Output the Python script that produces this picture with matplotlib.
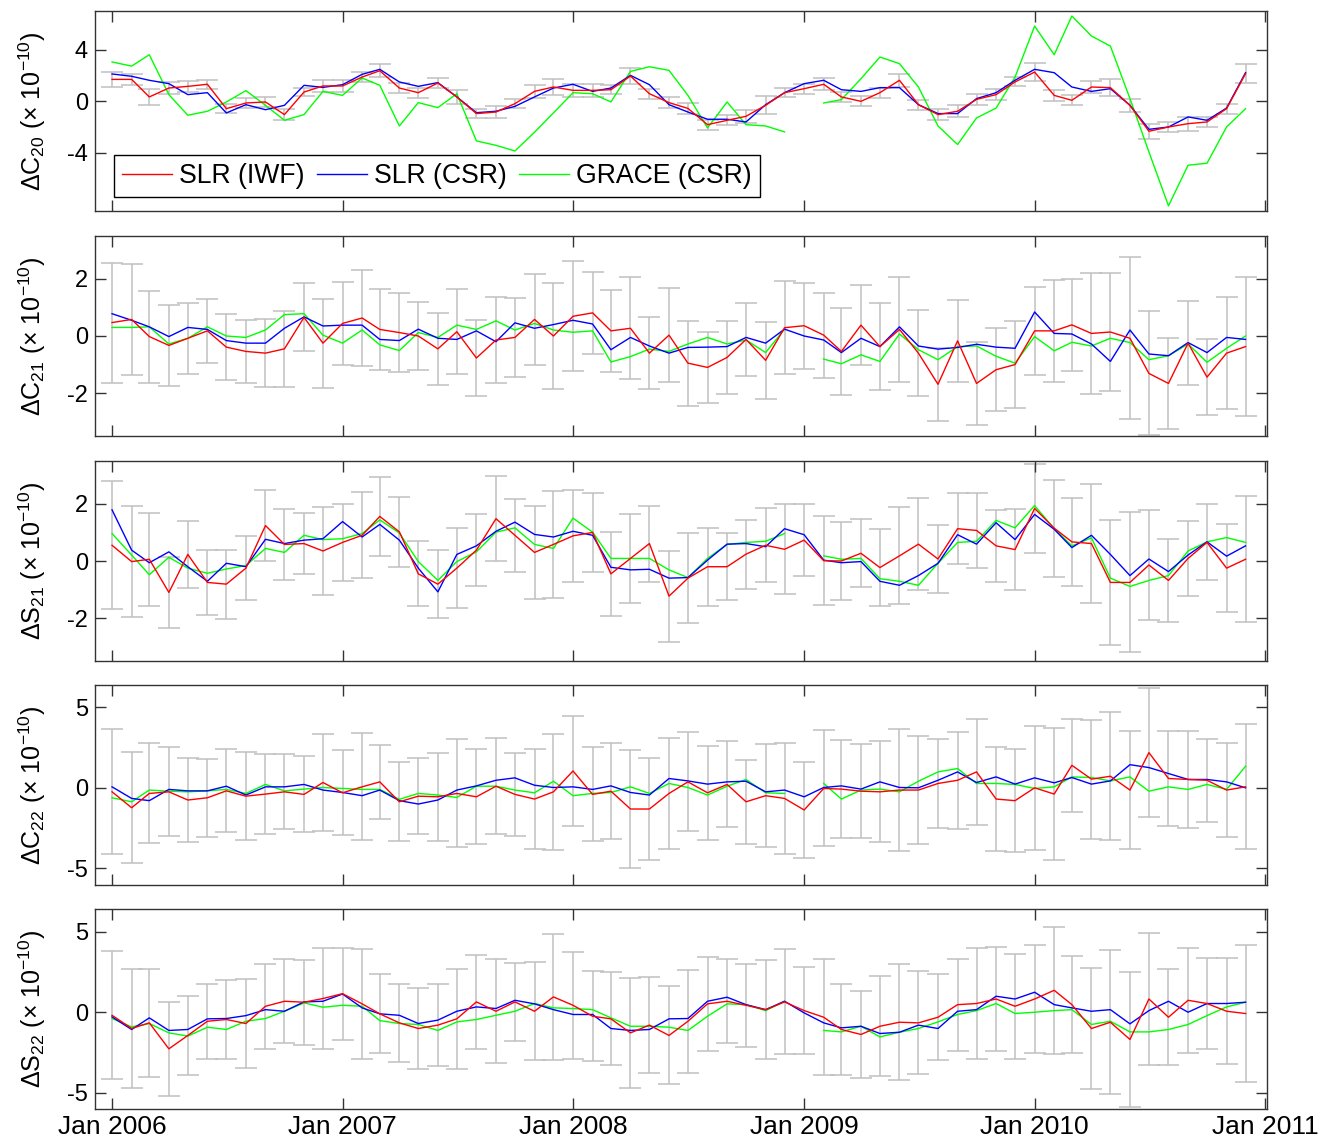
import numpy as np
import pandas as pd
import matplotlib
matplotlib.use("Agg")
import matplotlib.pyplot as plt
import matplotlib.dates as mdates

plt.rcParams.update({
    "font.family": ["Liberation Sans", "DejaVu Sans"],
    "mathtext.fontset": "custom",
    "mathtext.rm": "Liberation Sans",
    "mathtext.it": "Liberation Sans:italic",
    "axes.unicode_minus": False,
})

nan = np.nan
months = pd.date_range("2006-01-01", periods=60, freq="MS")

# delta C20
c20_iwf = [1.70, 1.70, 0.34, 1.03, 1.16, 1.32, -0.57, -0.13, -0.05, -1.03,
           0.72, 1.19, 1.19, 1.88, 2.37, 1.03, 0.67, 1.42, 0.34, -0.95,
           -0.83, -0.18, 0.77, 1.11, 0.85, 0.85, 0.90, 1.96, 0.59, -0.10,
           -0.55, -1.81, -1.47, -1.16, -0.31, 0.67, 0.98, 1.32, 0.34, 0.00,
           0.67, 1.63, -0.26, -1.03, -0.77, 0.15, 0.52, 1.50, 2.27, 0.46,
           0.08, 1.11, 1.06, -0.31, -2.32, -1.99, -1.73, -1.60, -0.57, 2.14]
c20_err = [0.60, 0.45, 0.65, 0.45, 0.40, 0.35, 0.35, 0.35, 0.40, 0.45,
           0.30, 0.50, 0.45, 0.40, 0.50, 0.40, 0.40, 0.35, 0.55, 0.35,
           0.50, 0.35, 0.50, 0.60, 0.50, 0.50, 0.35, 0.60, 0.40, 0.45,
           0.40, 0.40, 0.40, 0.50, 0.70, 0.35, 0.40, 0.45, 0.40, 0.40,
           0.40, 0.50, 0.40, 0.40, 0.45, 0.40, 0.40, 0.35, 0.70, 0.45,
           0.40, 0.45, 0.65, 0.50, 0.60, 0.35, 0.55, 0.40, 0.40, 0.75]
c20_csr = [2.12, 1.94, 1.63, 1.37, 0.52, 0.67, -0.90, -0.26, -0.65, -0.31,
           1.24, 1.08, 1.29, 2.09, 2.48, 1.50, 1.16, 1.45, 0.34, -0.88,
           -0.77, -0.39, 0.34, 1.03, 1.32, 0.77, 1.03, 2.01, 1.29, -0.26,
           -0.83, -1.39, -1.39, -1.60, -0.26, 0.67, 1.37, 1.63, 0.90, 0.77,
           1.06, 1.06, -0.26, -0.95, -0.95, 0.21, 0.67, 1.63, 2.48, 2.22,
           1.11, 0.77, 0.98, -0.31, -2.17, -1.99, -1.21, -1.47, -0.52, 2.22]
c20_grace = [3.05, 2.73, 3.61, 0.52, -1.08, -0.77, -0.05, 0.83, -0.31, -1.47,
             -1.03, 0.77, 0.46, 1.81, 1.24, -1.91, -0.10, -0.49, 0.59, -3.07,
             -3.41, -3.85, -2.40, -0.90, 0.67, 0.59, -0.05, 2.32, 2.68, 2.40,
             0.46, -2.06, -0.05, -1.81, -1.91, -2.37, nan, -0.13, 0.13, 1.75,
             3.43, 2.92, 1.11, -1.91, -3.35, -1.29, -0.52, 1.88, 5.83, 3.61,
             6.61, 5.06, 4.28, 0.21, -3.92, -8.10, -4.95, -4.80, -1.99, -0.57]

# delta C21
c21_iwf = [0.47, 0.58, -0.02, -0.33, -0.08, 0.18, -0.39, -0.54, -0.60, -0.45,
           0.65, -0.25, 0.44, 0.63, 0.23, 0.12, 0.00, -0.45, 0.15, -0.77,
           -0.14, -0.05, 0.58, 0.00, 0.69, 0.81, 0.18, 0.27, -0.60, 0.03,
           -0.95, -1.10, -0.75, -0.12, -0.85, 0.29, 0.36, 0.03, -0.54, 0.38,
           -0.37, 0.23, -0.60, -1.69, -0.17, -1.66, -1.18, -1.00, 0.18, 0.18,
           0.39, 0.09, 0.14, -0.08, -1.31, -1.66, -0.25, -1.44, -0.60, -0.37]
c21_err = [2.10, 1.95, 1.61, 1.41, 1.24, 1.11, 1.16, 1.11, 1.18, 1.33,
           1.19, 1.56, 1.45, 1.67, 1.41, 1.39, 1.20, 1.27, 1.48, 1.33,
           1.52, 1.38, 1.59, 1.86, 1.92, 1.43, 1.44, 1.78, 1.25, 1.65,
           1.49, 1.24, 1.27, 1.27, 1.35, 1.63, 1.50, 1.49, 1.52, 1.41,
           1.53, 1.83, 1.50, 1.27, 1.44, 1.45, 1.46, 1.53, 1.54, 1.78,
           1.61, 2.13, 2.06, 2.84, 2.17, 1.58, 1.48, 1.34, 1.95, 2.44]
c21_csr = [0.78, 0.55, 0.32, -0.02, 0.30, 0.23, -0.16, -0.25, -0.25, 0.27,
           0.67, 0.35, 0.38, 0.38, -0.12, -0.16, 0.24, -0.08, -0.12, 0.18,
           -0.20, 0.46, 0.27, 0.40, 0.55, 0.42, -0.48, -0.05, -0.35, -0.60,
           -0.40, -0.39, -0.37, -0.05, -0.25, 0.24, 0.00, -0.14, -0.58, -0.08,
           -0.37, 0.32, -0.35, -0.46, -0.40, -0.29, -0.39, -0.43, 0.84, 0.09,
           0.07, -0.28, -0.89, 0.21, -0.63, -0.69, -0.23, -0.58, -0.05, -0.12]
c21_grace = [0.30, 0.30, 0.32, -0.28, -0.08, 0.32, 0.00, -0.05, 0.21, 0.75,
             0.78, 0.03, -0.25, 0.21, -0.31, -0.51, 0.12, -0.05, 0.38, 0.23,
             0.53, 0.21, 0.44, 0.21, 0.13, 0.18, -0.91, -0.72, -0.46, -0.54,
             -0.28, -0.05, -0.28, -0.14, -0.58, 0.24, nan, -0.81, -0.97, -0.66,
             -0.89, 0.07, -0.48, -0.83, -0.37, -0.35, -0.71, -0.95, -0.02, -0.52,
             -0.22, -0.35, -0.08, -0.23, -0.83, -0.69, -0.28, -0.92, -0.43, 0.00]

# delta S21
s21_iwf = [0.55, -0.02, 0.06, -1.10, 0.23, -0.75, -0.81, -0.25, 1.24, 0.58,
           0.61, 0.35, 0.65, 0.90, 1.56, 1.02, -0.45, -0.81, -0.25, 0.38,
           1.48, 0.90, 0.30, 0.58, 0.88, 1.00, -0.45, 0.09, 0.61, -1.23,
           -0.60, -0.20, -0.20, 0.24, 0.55, 0.41, 0.73, 0.01, 0.00, 0.27,
           -0.23, 0.18, 0.59, 0.07, 1.13, 1.07, 0.53, 0.40, 1.84, 1.15,
           0.67, 0.61, -0.75, -0.75, -0.14, -0.68, 0.09, 0.65, -0.25, 0.06]
s21_err = [2.24, 1.94, 1.63, 1.25, 1.18, 1.14, 1.21, 1.12, 1.24, 1.23,
           1.07, 1.54, 1.35, 1.51, 1.37, 1.22, 1.14, 1.19, 1.39, 1.25,
           1.49, 1.27, 1.63, 1.87, 1.61, 1.38, 1.46, 1.57, 1.33, 1.59,
           1.58, 1.37, 1.18, 1.21, 1.30, 1.57, 1.25, 1.55, 1.35, 1.19,
           1.35, 1.70, 1.61, 1.18, 1.24, 1.32, 1.25, 1.42, 1.56, 1.70,
           1.53, 2.07, 2.20, 2.45, 1.91, 1.44, 1.32, 1.33, 1.53, 2.21]
s21_csr = [1.79, 0.38, -0.06, 0.32, -0.20, -0.71, -0.08, -0.20, 0.76, 0.61,
           0.73, 0.78, 1.38, 0.84, 1.28, 0.73, -0.25, -1.08, 0.23, 0.53,
           1.04, 1.36, 0.93, 0.84, 1.04, 0.90, -0.22, -0.31, -0.29, -0.60,
           -0.58, 0.03, 0.59, 0.61, 0.50, 1.13, 0.92, 0.03, -0.06, -0.02,
           -0.71, -0.85, -0.51, -0.08, 0.92, 0.59, 1.34, 0.75, 1.63, 1.11,
           0.47, 0.90, 0.23, -0.51, 0.07, -0.37, 0.21, 0.67, 0.17, 0.53]
s21_grace = [0.96, 0.21, -0.48, 0.13, -0.25, -0.43, -0.28, -0.16, 0.44, 0.30,
             0.90, 0.75, 0.78, 0.96, 1.44, 0.98, -0.02, -0.68, -0.02, 0.32,
             1.01, 1.16, 0.58, 0.44, 1.50, 1.01, 0.09, 0.09, 0.09, -0.31,
             -0.58, 0.09, 0.58, 0.65, 0.69, 0.96, nan, 0.18, 0.06, 0.09,
             -0.62, -0.71, -0.85, -0.08, 0.65, 0.69, 1.42, 1.16, 1.94, 1.13,
             0.53, 0.81, -0.60, -0.89, -0.68, -0.51, 0.35, 0.67, 0.82, 0.65]

# delta C22
c22_iwf = [-0.25, -1.24, -0.35, -0.25, -0.76, -0.62, -0.19, -0.52, -0.39, -0.25,
           -0.41, 0.33, -0.31, 0.06, 0.37, -0.87, -0.52, -0.56, -0.35, -0.56,
           0.10, -0.41, -0.70, -0.25, 1.05, -0.41, -0.21, -1.32, -1.32, -0.35,
           0.37, -0.31, 0.21, -0.87, -0.49, -0.66, -1.38, -0.04, -0.08, -0.21,
           -0.25, -0.14, -0.14, 0.27, 0.47, 0.99, -0.70, -0.80, 0.00, -0.39,
           1.40, 0.54, 0.72, -0.14, 2.19, 0.58, 0.52, 0.47, -0.14, 0.06]
c22_err = [3.89, 3.47, 3.11, 2.78, 2.60, 2.43, 2.58, 2.73, 2.49, 2.34,
           2.37, 3.01, 2.64, 3.33, 2.31, 2.47, 2.37, 2.73, 3.36, 2.96,
           2.99, 2.60, 3.14, 3.61, 3.44, 2.92, 3.00, 3.65, 3.19, 3.48,
           3.08, 2.91, 2.68, 2.63, 3.20, 3.45, 3.01, 3.61, 3.06, 2.93,
           3.14, 3.78, 3.37, 2.77, 3.03, 3.32, 3.23, 3.20, 3.85, 4.10,
           2.89, 3.70, 3.99, 3.68, 4.00, 2.93, 3.04, 2.58, 2.93, 3.89]
c22_csr = [0.06, -0.66, -0.80, -0.10, -0.19, -0.19, 0.10, -0.45, 0.06, 0.06,
           0.21, -0.14, -0.29, -0.49, -0.14, -0.80, -1.01, -0.76, -0.14, 0.12,
           0.47, 0.62, 0.16, 0.02, 0.06, -0.10, 0.12, -0.29, -0.45, 0.58,
           0.43, 0.23, 0.37, 0.41, -0.25, -0.14, -0.56, 0.02, 0.12, -0.08,
           0.37, 0.02, 0.00, 0.47, 0.99, 0.33, 0.68, 0.23, 0.62, 0.31,
           0.64, 0.23, 0.43, 1.44, 1.26, 0.89, 0.52, 0.52, 0.37, 0.00]
c22_grace = [-0.62, -0.87, -0.14, -0.21, -0.25, -0.19, -0.10, -0.35, 0.21, -0.19,
             -0.08, 0.02, -0.04, -0.10, -0.10, -0.72, -0.35, -0.45, -0.60, 0.10,
             0.10, -0.14, -0.31, 0.41, -0.49, -0.35, -0.29, 0.06, -0.35, 0.27,
             0.02, -0.45, 0.10, 0.52, -0.31, -0.35, nan, 0.27, -0.70, -0.14,
             -0.08, -0.25, 0.41, 0.99, 1.20, 0.27, 0.27, 0.21, -0.04, 0.06,
             0.68, 0.64, 0.43, 0.68, -0.21, 0.06, -0.10, 0.21, -0.10, 1.34]

# delta S22
s22_iwf = [-0.19, -1.01, -0.66, -2.27, -1.44, -0.56, -0.45, -0.70, 0.37, 0.68,
           0.62, 0.85, 1.15, 0.52, -0.10, -0.66, -1.01, -0.80, -0.41, 0.64,
           0.06, 0.64, 0.06, 0.95, 0.43, -0.25, -0.41, -1.28, -0.80, -1.44,
           -0.56, 0.52, 0.68, 0.43, 0.16, 0.64, 0.10, -0.31, -1.07, -1.38,
           -0.87, -0.62, -0.66, -0.31, 0.47, 0.54, 0.82, 0.37, 0.82, 1.36,
           0.47, -1.01, -0.62, -1.69, 0.82, -0.31, 0.74, 0.54, 0.06, -0.08]
s22_err = [3.98, 3.71, 3.35, 2.93, 2.45, 2.34, 2.45, 2.73, 2.63, 2.60,
           2.64, 3.14, 2.86, 3.42, 2.45, 2.44, 2.49, 2.56, 3.12, 2.89,
           3.23, 2.44, 3.05, 3.89, 3.30, 2.80, 2.89, 3.42, 2.96, 3.04,
           3.20, 2.93, 2.60, 2.57, 3.07, 3.26, 2.68, 3.61, 2.84, 2.70,
           3.09, 3.60, 3.20, 2.68, 2.85, 3.42, 3.21, 3.24, 3.33, 3.95,
           2.99, 3.76, 4.46, 4.20, 4.07, 2.99, 3.25, 2.84, 3.30, 4.23]
s22_csr = [-0.29, -1.07, -0.35, -1.13, -1.07, -0.41, -0.39, -0.21, 0.16, 0.06,
           0.64, 0.68, 1.13, 0.27, -0.10, -0.19, -0.70, -0.49, 0.06, 0.33,
           0.23, 0.74, 0.52, 0.16, -0.14, -0.14, -1.01, -1.13, -1.07, -0.41,
           -0.39, 0.68, 0.93, 0.47, 0.16, 0.68, -0.04, -0.66, -0.97, -0.87,
           -1.32, -1.24, -0.80, -1.01, 0.06, 0.16, 0.99, 0.82, 1.24, 0.47,
           0.27, 0.06, 0.16, -0.72, 0.10, 0.68, 0.00, 0.54, 0.54, 0.62]
s22_grace = [-0.39, -0.91, -0.70, -1.28, -1.48, -0.93, -1.07, -0.56, -0.39, 0.06,
             0.58, 0.31, 0.43, 0.37, -0.52, -0.70, -0.76, -1.13, -0.60, -0.45,
             -0.19, 0.06, 0.54, 0.27, 0.23, 0.16, -0.35, -0.87, -0.87, -0.93,
             -1.13, -0.25, 0.52, 0.47, 0.10, 0.68, nan, -1.13, -1.22, -0.87,
             -1.53, -1.24, -1.01, -0.60, -0.14, 0.10, 0.54, -0.08, 0.00, 0.10,
             0.16, -0.76, -0.56, -1.22, -1.22, -1.07, -0.76, -0.21, 0.33, 0.62]

panels = [
    ("20", "C", c20_iwf, c20_err, c20_csr, c20_grace, (-8.5, 7.0), [-4, 0, 4]),
    ("21", "C", c21_iwf, c21_err, c21_csr, c21_grace, (-3.5, 3.5), [-2, 0, 2]),
    ("21", "S", s21_iwf, s21_err, s21_csr, s21_grace, (-3.5, 3.5), [-2, 0, 2]),
    ("22", "C", c22_iwf, c22_err, c22_csr, c22_grace, (-6.05, 6.4), [-5, 0, 5]),
    ("22", "S", s22_iwf, s22_err, s22_csr, s22_grace, (-6.0, 6.4), [-5, 0, 5]),
]

W, H = 1320, 1141
fig = plt.figure(figsize=(W / 100, H / 100), dpi=100)

left, right = 95, 1267
tops = [11, 236, 461, 685, 909]
panel_h = 200

year_ticks = pd.date_range("2006-01-01", periods=6, freq="YS")

for k, (deg, kind, iwf, err, csr, grace, ylim, yticks) in enumerate(panels):
    ax = fig.add_axes([left / W, 1 - (tops[k] + panel_h) / H,
                       (right - left) / W, panel_h / H])

    ax.errorbar(months, iwf, yerr=err, fmt="none", ecolor="#c0c0c0",
                elinewidth=1.1, capsize=8, capthick=1.1, zorder=1)
    l_grace, = ax.plot(months, grace, color="#00ff00", lw=1.0, zorder=2)
    l_csr, = ax.plot(months, csr, color="#0000ff", lw=1.0, zorder=3)
    l_iwf, = ax.plot(months, iwf, color="#ff0000", lw=1.0, zorder=4)

    ax.set_xlim(pd.Timestamp("2005-12-05"), pd.Timestamp("2011-01-04"))
    ax.set_ylim(*ylim)
    ax.set_yticks(yticks)
    ax.set_xticks(year_ticks)
    ax.xaxis.set_major_formatter(mdates.DateFormatter("%b %Y"))

    ax.tick_params(direction="in", length=8, width=1, top=True, right=True,
                   color="#333333")
    ax.tick_params(axis="y", labelsize=17, pad=5)
    ax.tick_params(axis="x", labelsize=19, pad=4)
    if k < len(panels) - 1:
        ax.tick_params(axis="x", labelbottom=False)

    for sp in ax.spines.values():
        sp.set_color("#333333")
        sp.set_linewidth(1.0)

    ax.set_ylabel(f"Δ{kind}$_{{{deg}}}$ (× 10$^{{-10}}$)", fontsize=18)
    ax.yaxis.set_label_coords(-0.040, 0.5)

    if k == 0:
        ax.legend([l_iwf, l_csr, l_grace],
                  ["SLR (IWF)", "SLR (CSR)", "GRACE (CSR)"],
                  loc="lower left", bbox_to_anchor=(0.016, 0.07),
                  borderaxespad=0, ncol=3, fontsize=19.2, handlelength=1.9,
                  handletextpad=0.25, columnspacing=0.45, borderpad=0.3,
                  fancybox=False, framealpha=1, edgecolor="black")
        ax.get_legend().get_frame().set_linewidth(1.0)

fig.savefig("out.png", dpi=100)
